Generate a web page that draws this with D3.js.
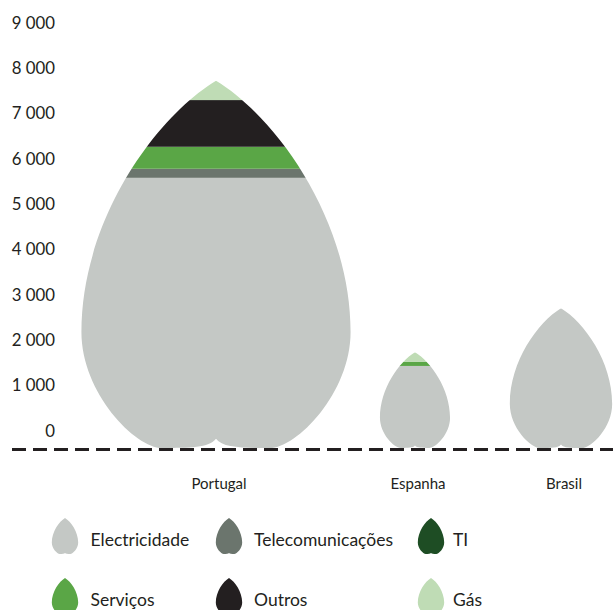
<!DOCTYPE html>
<html>
<head>
<meta charset="utf-8">
<script src="https://cdn.jsdelivr.net/npm/d3@7"></script>
<style>
  html, body { margin: 0; padding: 0; background: #ffffff; }
  svg { display: block; }
  text { font-family: Lato, "Open Sans", sans-serif; fill: #231f20; }
</style>
</head>
<body>
<svg id="chart" width="613" height="610"></svg>
<script>
// ---- data ----
const categories = ["Portugal", "Espanha", "Brasil"];
const seriesNames = ["Electricidade", "Telecomunicações", "TI", "Serviços", "Outros", "Gás"];
const electricidade   = [5960, 1810, 3080];
const telecomunicacoes = [200, 0, 0];
const ti              = [0, 0, 0];
const servicos        = [485, 95, 0];
const outros          = [1030, 0, 0];
const gas             = [425, 205, 0];
const yTicks = [0, 1000, 2000, 3000, 4000, 5000, 6000, 7000, 8000, 9000];
const tickLabels = ["0", "1 000", "2 000", "3 000", "4 000", "5 000", "6 000", "7 000", "8 000", "9 000"];

// ---- styles / layout ----
const colors = ["#c4c8c5", "#6b756d", "#1e4d24", "#5aa646", "#231f20", "#bfdcb5"];
const seriesValues = [electricidade, telecomunicacoes, ti, servicos, outros, gas];

const svg = d3.select("#chart");
const y = d3.scaleLinear().domain([0, 9000]).range([448, 40]);
const x = d3.scaleOrdinal().domain(categories).range([216, 415, 561]);
const color = d3.scaleOrdinal().domain(seriesNames).range(colors);
const aspect = 0.733;

function dropPath(cx, base, H) {
  const W = H * aspect;
  const P = (u, v) => (cx + u * W / 2).toFixed(2) + "," + (base - v * H).toFixed(2);
  return "M" + P(0, 1) +
    "C" + P(0.45, 0.9) + " " + P(1, 0.62) + " " + P(1, 0.316) +
    "C" + P(1, 0.15) + " " + P(0.6, 0) + " " + P(0.4, 0) +
    "C" + P(0.2, 0) + " " + P(0.05, 0) + " " + P(0, 0.025) +
    "C" + P(-0.05, 0) + " " + P(-0.2, 0) + " " + P(-0.4, 0) +
    "C" + P(-0.6, 0) + " " + P(-1, 0.15) + " " + P(-1, 0.316) +
    "C" + P(-1, 0.62) + " " + P(-0.45, 0.9) + " " + P(0, 1) + "Z";
}

// stacked data
const table = categories.map((c, i) => {
  const row = { category: c };
  seriesNames.forEach((s, j) => row[s] = seriesValues[j][i]);
  return row;
});
const stack = d3.stack().keys(seriesNames)(table);

const defs = svg.append("defs");

// y axis labels
svg.append("g").selectAll("text")
  .data(yTicks)
  .join("text")
  .attr("x", 55)
  .attr("y", d => y(d) - 18)
  .attr("text-anchor", "end")
  .attr("dominant-baseline", "central")
  .attr("font-size", 16.8)
  .text((d, i) => tickLabels[i]);

// drops
table.forEach((row, i) => {
  const total = d3.sum(seriesNames, s => row[s]);
  const cx = x(row.category);
  const base = y(0);
  const H = base - y(total);
  const W = H * aspect;
  const id = "clip" + i;
  defs.append("clipPath").attr("id", id)
    .append("path").attr("d", dropPath(cx, base, H));
  const g = svg.append("g").attr("clip-path", "url(#" + id + ")");
  stack.forEach(layer => {
    const d = layer[i];
    if (d[1] - d[0] <= 0) return;
    g.append("rect")
      .attr("x", cx - W / 2 - 2)
      .attr("width", W + 4)
      .attr("y", y(d[1]))
      .attr("height", y(d[0]) - y(d[1]) + (d[0] === 0 ? 2 : 0))
      .attr("fill", color(layer.key));
  });
});

// baseline dashed
svg.append("line")
  .attr("x1", 12).attr("x2", 613)
  .attr("y1", y(0) + 1.5).attr("y2", y(0) + 1.5)
  .attr("stroke", "#231f20")
  .attr("stroke-width", 3)
  .attr("stroke-dasharray", "14,7");

// category labels
svg.append("g").selectAll("text")
  .data(categories)
  .join("text")
  .attr("x", d => x(d) + 3)
  .attr("y", 483)
  .attr("text-anchor", "middle")
  .attr("dominant-baseline", "central")
  .attr("font-size", 15)
  .text(d => d);

// legend
const legendX = [65, 229, 431];
const legendTextX = [90.5, 254, 453];
const legendRowY = [539, 599];
const lg = svg.append("g");
seriesNames.forEach((s, i) => {
  const col = i % 3, row = Math.floor(i / 3);
  const cx = legendX[col];
  const cy = legendRowY[row];
  lg.append("path")
    .attr("d", dropPath(cx, cy + 15, 36))
    .attr("fill", color(s));
  lg.append("text")
    .attr("x", legendTextX[col])
    .attr("y", cy)
    .attr("dominant-baseline", "central")
    .attr("font-size", 17.5)
    .text(s);
});
</script>
</body>
</html>
